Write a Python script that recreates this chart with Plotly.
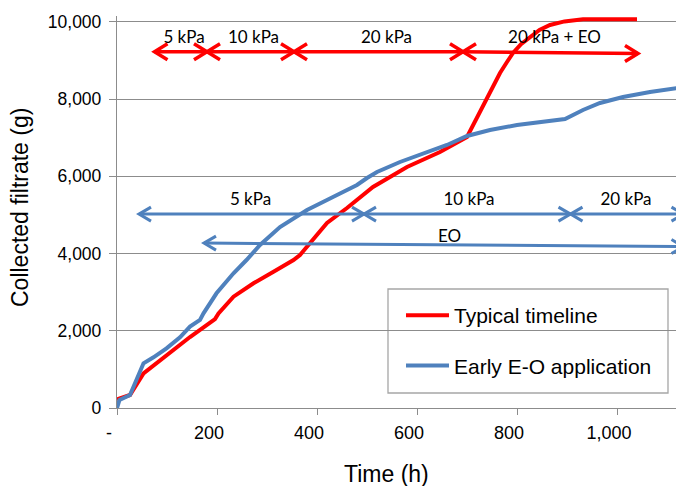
import plotly.graph_objects as go

# ---------------- data ----------------
typical_t = [0, 26, 53, 100, 146, 196, 203, 233, 273, 313, 353, 366, 386, 420, 460, 512, 580, 646, 700,
             710, 720, 730, 740, 753, 766, 779, 792, 808, 826, 845, 866, 895, 932, 1040]
typical_g = [225, 337, 898, 1372, 1838, 2304, 2450, 2882, 3229, 3530, 3832, 3962, 4272, 4790, 5179, 5722, 6240, 6629, 7017,
             7270, 7535, 7800, 8053, 8370, 8674, 8940, 9192, 9420, 9606, 9790, 9917, 10010, 10065, 10065]

early_t = [0, 5, 26, 33, 53, 73, 99, 126, 146, 166, 173, 199, 233, 259, 286, 326, 380, 432, 480, 500, 520,
           566, 620, 660, 700, 746, 800, 852, 896, 932, 966, 1012, 1066, 1134]
early_g = [0, 207, 337, 553, 1157, 1312, 1545, 1830, 2106, 2279, 2452, 2970, 3488, 3832, 4220, 4687, 5127, 5464, 5774, 5955, 6111,
           6370, 6629, 6810, 7043, 7198, 7328, 7405, 7483, 7716, 7897, 8053, 8182, 8310]

# phase arrows (typical timeline, red)
red_arrow_start = [75, 180, 354, 692]
red_arrow_end = [180, 354, 692, 1042]
red_arrow_y0 = [9226, 9226, 9226, 9226]
red_arrow_y1 = [9226, 9226, 9226, 9180]
red_labels = ["5 kPa", "10 kPa", "20 kPa", "20 kPa + EO"]
red_label_t = [134, 273, 539, 875]
red_label_g = [9560, 9560, 9560, 9560]

# phase arrows (early E-O, blue)
blue_arrow_start = [44, 494, 907, 174]
blue_arrow_end = [494, 907, 1133, 1133]
blue_arrow_y0 = [5020, 5020, 5020, 4270]
blue_arrow_y1 = [5020, 5020, 5020, 4180]
blue_labels = ["5 kPa", "10 kPa", "20 kPa", "EO"]
blue_label_t = [267, 704, 1018, 665]
blue_label_g = [5370, 5370, 5370, 4410]

x_tickvals = [0, 200, 400, 600, 800, 1000]
x_ticktext = ["-", "200", "400", "600", "800", "1,000"]
y_tickvals = [0, 2000, 4000, 6000, 8000, 10000]
y_ticktext = ["0", "2,000", "4,000", "6,000", "8,000", "10,000"]

RED = "#FF0000"
BLUE = "#4F81BD"
GRID = "#8C8C8C"

X_RANGE = [0, 1134]
Y_RANGE = [0, 10150]
PLOT_W = 567
PLOT_H = 392
HX = (X_RANGE[1] - X_RANGE[0]) / PLOT_W   # hours per pixel
GY = (Y_RANGE[1] - Y_RANGE[0]) / PLOT_H   # grams per pixel

# page body has an 8px margin: positions below are in window pixels
PX0, PY0 = 117, 408   # window position of plot origin


def arrow_path(starts, ends, y0s, y1s, back_px, half_px):
    xs, ys = [], []
    dx = back_px * HX
    dy = half_px * GY
    for a, b, ya, yb in zip(starts, ends, y0s, y1s):
        xs += [a, b, None]
        ys += [ya, yb, None]
        xs += [a + dx, a, a + dx, None]
        ys += [ya + dy, ya, ya - dy, None]
        xs += [b - dx, b, b - dx, None]
        ys += [yb + dy, yb, yb - dy, None]
    return xs, ys


fig = go.Figure()

fig.add_trace(go.Scatter(x=typical_t, y=typical_g, mode="lines", name="Typical timeline",
                         line=dict(color=RED, width=4), legendgroup="a"))
fig.add_trace(go.Scatter(x=early_t, y=early_g, mode="lines", name="Early E-O application",
                         line=dict(color=BLUE, width=4), legendgroup="b"))

rx, ry = arrow_path(red_arrow_start, red_arrow_end, red_arrow_y0, red_arrow_y1, 13, 8)
fig.add_trace(go.Scatter(x=rx, y=ry, mode="lines", line=dict(color=RED, width=3.5),
                         showlegend=False, hoverinfo="skip"))
bx, by = arrow_path(blue_arrow_start, blue_arrow_end, blue_arrow_y0, blue_arrow_y1, 12, 7)
fig.add_trace(go.Scatter(x=bx, y=by, mode="lines", line=dict(color=BLUE, width=3),
                         showlegend=False, hoverinfo="skip"))

fig.add_trace(go.Scatter(x=red_label_t, y=red_label_g, mode="text", text=red_labels,
                         textfont=dict(family="Lato", size=17, color="#000000"),
                         showlegend=False, hoverinfo="skip", cliponaxis=False))
fig.add_trace(go.Scatter(x=blue_label_t, y=blue_label_g, mode="text", text=blue_labels,
                         textfont=dict(family="Lato", size=17, color="#000000"),
                         showlegend=False, hoverinfo="skip", cliponaxis=False))

# legend box
fig.add_shape(type="rect", xref="paper", yref="paper",
              x0=(388 - PX0) / PLOT_W, x1=(668 - PX0) / PLOT_W,
              y0=(PY0 - 393) / PLOT_H, y1=(PY0 - 289) / PLOT_H,
              line=dict(color="#A6A6A6", width=1.3), fillcolor="white", layer="between")

fig.add_annotation(text="Collected filtrate (g)", xref="paper", yref="paper",
                   x=(20 - PX0) / PLOT_W, y=(PY0 - 208) / PLOT_H, textangle=-90,
                   xanchor="center", yanchor="middle",
                   showarrow=False, font=dict(family="Liberation Sans", size=23, color="#000000"))
fig.add_annotation(text="Time (h)", xref="paper", yref="paper",
                   x=(386 - PX0) / PLOT_W, y=(PY0 - 474) / PLOT_H,
                   xanchor="center", yanchor="middle",
                   showarrow=False, font=dict(family="Liberation Sans", size=23, color="#000000"))

fig.update_layout(
    width=676, height=478,
    margin=dict(l=109, r=0, t=8, b=78),
    paper_bgcolor="white", plot_bgcolor="white",
    font=dict(family="Liberation Sans", color="#000000"),
    showlegend=True,
    legend=dict(x=(401 - PX0) / PLOT_W, y=(PY0 - 295) / PLOT_H, xanchor="left", yanchor="top",
                bgcolor="rgba(0,0,0,0)", borderwidth=0,
                font=dict(family="Liberation Sans", size=21, color="#000000"),
                traceorder="grouped", tracegroupgap=20, itemwidth=43),
    xaxis=dict(range=X_RANGE, tickvals=x_tickvals, ticktext=x_ticktext,
               showgrid=False, zeroline=False, showline=True, linecolor=GRID, linewidth=1.3,
               ticks="outside", ticklen=6, tickcolor=GRID, tickwidth=1.3,
               tickfont=dict(family="Liberation Sans", size=18, color="#000000"),
               ticklabelstandoff=2, ticklabelshift=-8, fixedrange=True),
    yaxis=dict(range=Y_RANGE, tickvals=y_tickvals, ticktext=y_ticktext,
               showgrid=True, gridcolor=GRID, gridwidth=1.3,
               zeroline=False, showline=True, linecolor=GRID, linewidth=1.3,
               ticks="outside", ticklen=7, tickcolor=GRID, tickwidth=1.3,
               tickfont=dict(family="Liberation Sans", size=17.5, color="#000000"),
               ticklabelstandoff=4, fixedrange=True),
)

fig.write_html("out.html")
